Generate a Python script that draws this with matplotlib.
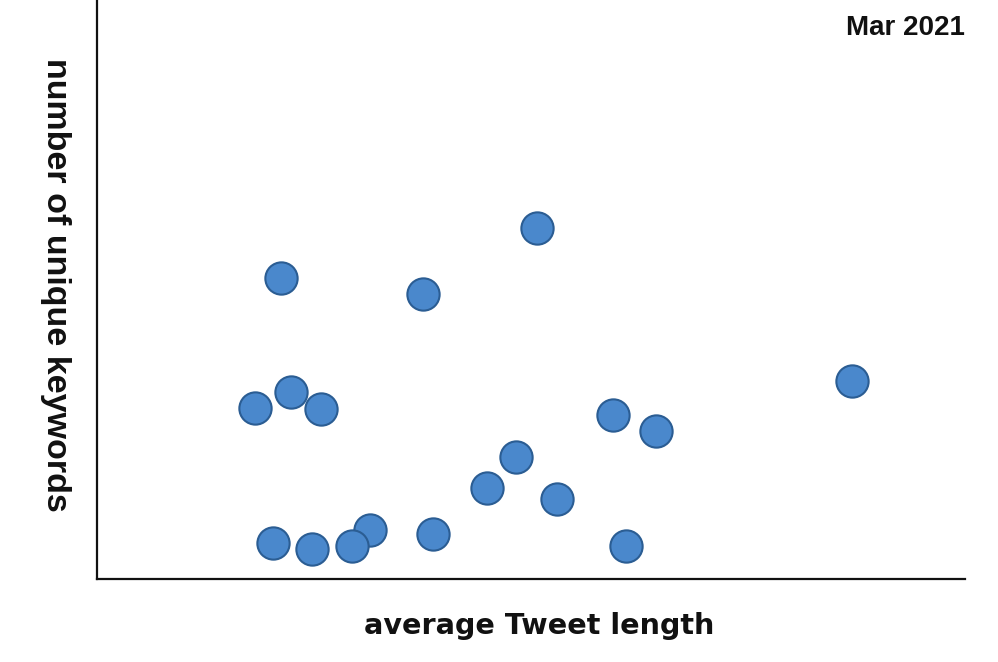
import matplotlib
matplotlib.use("Agg")
import matplotlib.pyplot as plt

# average tweet length vs number of unique keywords (arbitrary units, no ticks shown)
tweet_len = [21.2, 50.7, 37.6, 87.0, 18.2, 22.4, 25.8, 59.4, 64.4, 48.3,
             44.9, 53.0, 20.3, 24.8, 31.4, 29.4, 38.7, 60.9]
keywords = [52.0, 60.6, 49.2, 34.2, 29.5, 32.3, 29.4, 28.3, 25.6, 21.1,
            15.7, 13.8, 6.2, 5.1, 8.4, 5.7, 7.8, 5.7]

period = "Mar 2021"

fig = plt.figure(figsize=(9.98, 6.62), dpi=100)
ax = fig.add_axes([97 / 998, 83 / 662, 868 / 998, 579 / 662])

ax.scatter(tweet_len, keywords, s=540, color="#4a88cc",
           edgecolors="#2b5d93", linewidths=1.5, zorder=3)

ax.set_xlim(0, 100)
ax.set_ylim(0, 100)
ax.set_xticks([])
ax.set_yticks([])
for side in ["top", "right"]:
    ax.spines[side].set_visible(False)
for side in ["left", "bottom"]:
    ax.spines[side].set_linewidth(1.6)
    ax.spines[side].set_color("#111111")

fig.text(539 / 998, 1 - 626 / 662, "average Tweet length", ha="center", va="center",
         fontsize=20.6, fontweight="bold", family="DejaVu Sans", color="#111111")
fig.text(55 / 998, 1 - 285 / 662, "number of unique keywords", ha="center", va="center",
         rotation=-90, fontsize=24.5, fontweight="bold", family="Liberation Sans",
         color="#111111")
fig.text(965 / 998, 1 - 28 / 662, period, ha="right", va="center",
         fontsize=20, fontweight="bold", family="Liberation Sans", color="#111111")

fig.savefig("out.png", dpi=100)
